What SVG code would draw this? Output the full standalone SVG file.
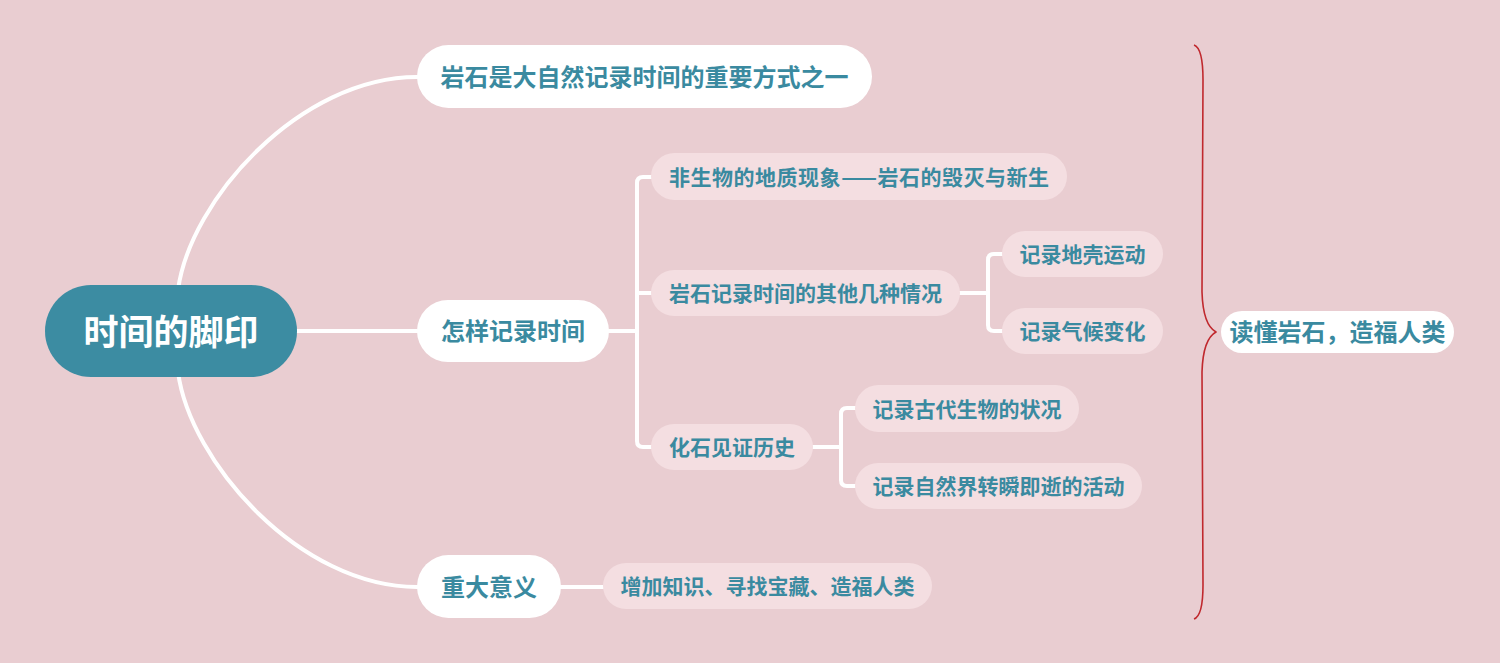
<svg xmlns="http://www.w3.org/2000/svg" width="1500" height="663" viewBox="0 0 1500 663">
  <style>
    .bg { fill: #E9CDD1; }
    .root-box { fill: #3C8CA2; }
    .l1-box { fill: #FFFFFF; }
    .l2-box { fill: #F4DEE1; }
    .root-text { font-family: "Noto Sans CJK SC", "Noto Sans", sans-serif; font-weight: 700; font-size: 35px; fill: #FFFFFF; text-anchor: middle; }
    .l1-text { font-family: "Noto Sans CJK SC", "Noto Sans", sans-serif; font-weight: 700; font-size: 24px; fill: #3A8AA0; text-anchor: middle; }
    .l2-text { font-family: "Noto Sans CJK SC", "Noto Sans", sans-serif; font-weight: 700; font-size: 21px; fill: #3A8AA0; text-anchor: middle; }
    .conn { fill: none; stroke: #FFFFFF; stroke-width: 4; stroke-linecap: round; stroke-linejoin: round; }
    .brace { fill: none; stroke: #C0282D; stroke-width: 1.6; stroke-linejoin: round; }
  </style>
  <rect class="bg" x="0" y="0" width="1500" height="663"/>

  <g id="connectors">
    <path class="conn" d="M178,290 C190,200 300,77 417,77"/>
    <path class="conn" d="M178,372 C190,462 300,587 417,587"/>
    <path class="conn" d="M297,331 H417"/>
    <path class="conn" d="M609,331 H637"/>
    <path class="conn" d="M651,177 H643 Q637,177 637,183 V441 Q637,447 643,447 H651"/>
    <path class="conn" d="M637,293 H651"/>
    <path class="conn" d="M960,293 H988"/>
    <path class="conn" d="M1002,254 H994 Q988,254 988,260 V325 Q988,331 994,331 H1002"/>
    <path class="conn" d="M813,447 H841"/>
    <path class="conn" d="M855,408 H847 Q841,408 841,414 V480 Q841,486 847,486 H855"/>
    <path class="conn" d="M561,587 H603"/>
  </g>

  <g id="summary-brace">
    <path class="brace" d="M1194,45 Q1203,48 1203,80 L1202,292 Q1203,325 1216,332 Q1203,339 1202,372 L1203,585 Q1203,616 1194,619"/>
  </g>

  <g id="root">
    <rect class="root-box" x="45" y="285" width="252" height="92" rx="46"/>
    <text class="root-text" x="171" y="345">时间的脚印</text>
  </g>

  <g id="n-yanshi">
    <rect class="l1-box" x="417" y="45" width="455" height="63" rx="31.5"/>
    <text class="l1-text" x="644.5" y="86">岩石是大自然记录时间的重要方式之一</text>
  </g>

  <g id="n-zenyang">
    <rect class="l1-box" x="417" y="300" width="192" height="62" rx="31"/>
    <text class="l1-text" x="513" y="340">怎样记录时间</text>
  </g>

  <g id="n-zhongda">
    <rect class="l1-box" x="417" y="555" width="144" height="63" rx="31.5"/>
    <text class="l1-text" x="489" y="596">重大意义</text>
  </g>

  <g id="n-feishengwu">
    <rect class="l2-box" x="651" y="153" width="416" height="47" rx="23.5"/>
    <text class="l2-text" x="859" y="184.5" textLength="380" lengthAdjust="spacing">非生物的地质现象——岩石的毁灭与新生</text>
  </g>

  <g id="n-qita">
    <rect class="l2-box" x="651" y="270" width="309" height="46" rx="23"/>
    <text class="l2-text" x="805.5" y="301">岩石记录时间的其他几种情况</text>
  </g>

  <g id="n-huashi">
    <rect class="l2-box" x="651" y="424" width="162" height="46" rx="23"/>
    <text class="l2-text" x="732" y="455">化石见证历史</text>
  </g>

  <g id="n-diqiao">
    <rect class="l2-box" x="1002" y="231" width="161" height="46" rx="23"/>
    <text class="l2-text" x="1082.5" y="262">记录地壳运动</text>
  </g>

  <g id="n-qihou">
    <rect class="l2-box" x="1002" y="308" width="161" height="46" rx="23"/>
    <text class="l2-text" x="1082.5" y="339">记录气候变化</text>
  </g>

  <g id="n-gudai">
    <rect class="l2-box" x="855" y="385" width="224" height="47" rx="23.5"/>
    <text class="l2-text" x="967" y="416.5">记录古代生物的状况</text>
  </g>

  <g id="n-zhuanshun">
    <rect class="l2-box" x="855" y="463" width="287" height="46" rx="23"/>
    <text class="l2-text" x="998.5" y="494">记录自然界转瞬即逝的活动</text>
  </g>

  <g id="n-zengjia">
    <rect class="l2-box" x="603" y="563" width="329" height="46" rx="23"/>
    <text class="l2-text" x="767.5" y="594">增加知识、寻找宝藏、造福人类</text>
  </g>

  <g id="n-summary">
    <rect class="l1-box" x="1221" y="311" width="233" height="42" rx="21"/>
    <text class="l1-text" x="1337.5" y="340.5">读懂岩石，造福人类</text>
  </g>
</svg>
